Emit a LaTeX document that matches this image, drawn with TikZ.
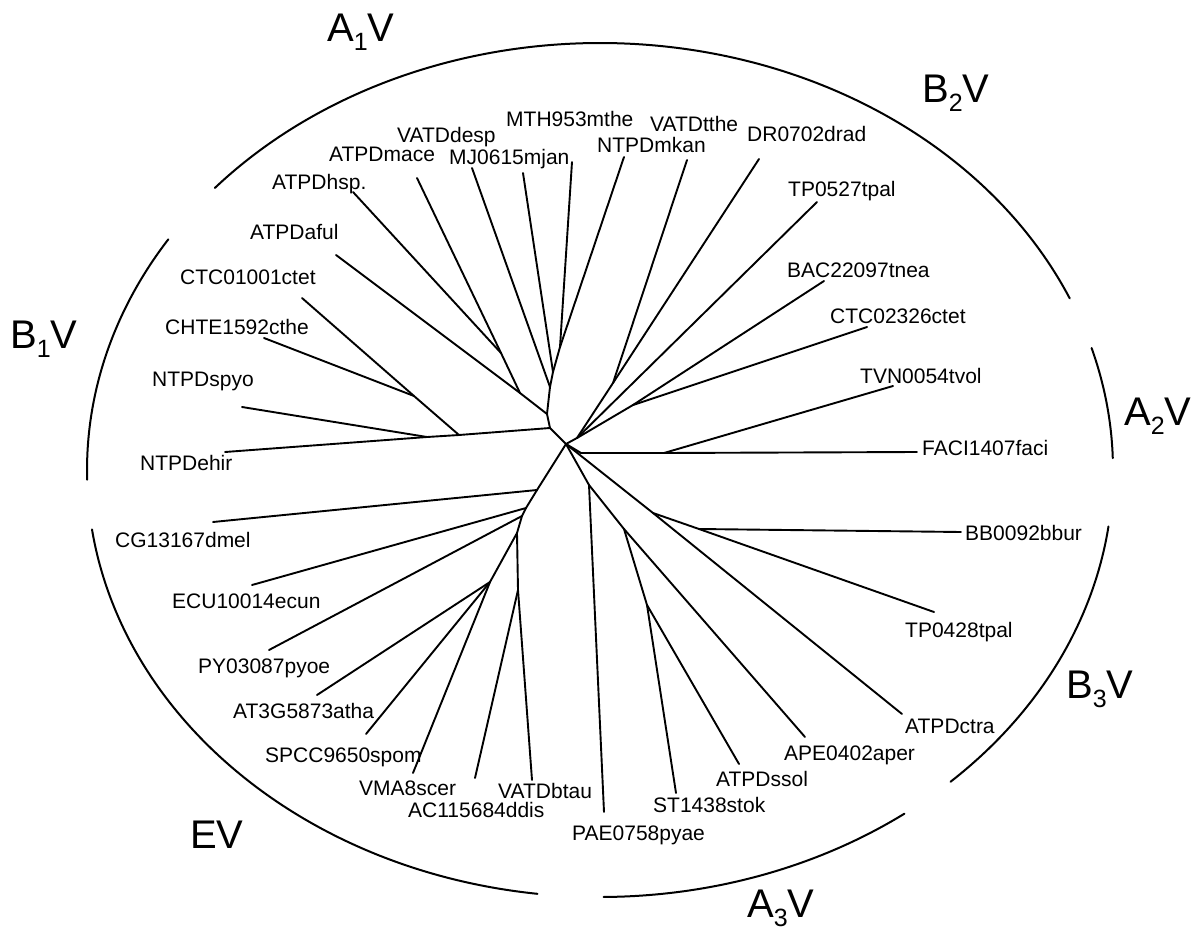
\documentclass[tikz,border=0pt]{standalone}
\usepackage{fontspec}
\setmainfont{Liberation Sans}
\newcommand{\grplbl}[3]{#1\raisebox{-9pt}{\fontsize{25}{25}\selectfont #2}#3}
\begin{document}
\begin{tikzpicture}[x=1pt,y=-1pt,
  br/.style={line width=1.9pt, line cap=round, line join=round},
  arcline/.style={line width=2pt, line cap=round},
  lbl/.style={anchor=base west, inner sep=0pt, font=\fontsize{21}{24}\selectfont},
  big/.style={anchor=base west, inner sep=0pt, font=\fontsize{40}{44}\selectfont}]
\useasboundingbox (0,0) rectangle (1197,936);
\fill[white] (0,0) rectangle (1197,936);
% ---- inner nodes
\coordinate (C) at (566,444);
\coordinate (N1) at (550,428);
\coordinate (a3) at (547,414);
\coordinate (a4) at (550,387);
\coordinate (a5) at (553,372);
\coordinate (a6) at (560,347);
\coordinate (a2) at (520,393);
\coordinate (a1) at (501,353);
\coordinate (S2) at (459,435);
\coordinate (S1) at (427,437);
\coordinate (K) at (414,396);
\coordinate (Q) at (577,438);
\coordinate (V) at (613,383);
\coordinate (W) at (633,405);
\coordinate (F0) at (581,453);
\coordinate (G) at (664,453);
\coordinate (T1) at (653,513);
\coordinate (T2) at (699,529);
\coordinate (P) at (589,485);
\coordinate (J1) at (624,529);
\coordinate (J2) at (647,605);
\coordinate (E1) at (537,490);
\coordinate (E2) at (526,508);
\coordinate (E3) at (522,516);
\coordinate (E4) at (517,533);
\coordinate (E5) at (490,582);
\coordinate (E6) at (518,590);
% ---- tips
\coordinate (tHsp) at (353,192);
\coordinate (tMace) at (417,178);
\coordinate (tDesp) at (472,168);
\coordinate (tMjan) at (523,173);
\coordinate (tMthe) at (572,162);
\coordinate (tMkan) at (624,157);
\coordinate (tAful) at (336,255);
\coordinate (tTthe) at (687,160);
\coordinate (tDrad) at (759,159);
\coordinate (tTpa) at (817,202);
\coordinate (tBac) at (824,281);
\coordinate (tCtcb) at (867,327);
\coordinate (tTvn) at (893,386);
\coordinate (tFaci) at (917,452);
\coordinate (tBb) at (961,532);
\coordinate (tTpb) at (934,612);
\coordinate (tCtra) at (902,714);
\coordinate (tApe) at (805,737);
\coordinate (tSsol) at (739,764);
\coordinate (tSt) at (676,793);
\coordinate (tPae) at (604,812);
\coordinate (tBtau) at (532,780);
\coordinate (tAc) at (475,778);
\coordinate (tVma) at (413,773);
\coordinate (tSpcc) at (366,734);
\coordinate (tAt) at (317,695);
\coordinate (tPy) at (269,650);
\coordinate (tEcu) at (252,585);
\coordinate (tCg) at (213,522);
\coordinate (tEhir) at (225,452);
\coordinate (tSpyo) at (242,407);
\coordinate (tChte) at (264,338);
\coordinate (tCtca) at (302,298);
% ---- branches
\foreach \u/\v in {C/N1, N1/a3, a3/a4, a4/a5, a5/a6, a6/tMthe, a6/tMkan, a5/tMjan, a4/tDesp,
  a3/a2, a2/tAful, a2/a1, a1/tMace, a1/tHsp,
  N1/S2, S2/S1, S1/tEhir, S1/tSpyo, S2/K, K/tCtca, K/tChte,
  C/Q, Q/V, V/tTthe, V/tDrad, Q/tTpa, Q/W, W/tBac, W/tCtcb,
  C/F0, F0/G, G/tFaci, G/tTvn,
  C/T1, T1/tCtra, T1/T2, T2/tTpb, T2/tBb,
  C/P, P/tPae, P/J1, J1/tApe, J1/J2, J2/tSsol, J2/tSt,
  C/E1, E1/tCg, E1/E2, E2/tEcu, E2/E3, E3/tPy, E3/E4, E4/E5, E5/tAt, E5/tSpcc, E5/tVma,
  E4/E6, E6/tBtau, E6/tAc}
  \draw[br] (\u) -- (\v);
% ---- arcs
\coordinate (EC) at (600,470);
\draw[arcline] (EC) ++(-138.65:513 and 427) arc[start angle=-138.65, end angle=-23.7, x radius=513, y radius=427];
\draw[arcline] (EC) ++(-147.3:513 and 427) arc[start angle=-147.3, end angle=-181.3, x radius=513, y radius=427];
\draw[arcline] (EC) ++(-188:513 and 427) arc[start angle=-188, end angle=-263, x radius=513, y radius=427];
\draw[arcline] (EC) ++(89.6:513 and 427) arc[start angle=89.6, end angle=53.6, x radius=513, y radius=427];
\draw[arcline] (EC) ++(46.9:513 and 427) arc[start angle=46.9, end angle=7.6, x radius=513, y radius=427];
\draw[arcline] (EC) ++(-1.6:513 and 427) arc[start angle=-1.6, end angle=-16.6, x radius=513, y radius=427];
% ---- leaf labels
\node[lbl] (lHsp) at (272,190) {ATPDhsp.};
\node[lbl] (lMace) at (329,162) {ATPDmace};
\node[lbl] (lDesp) at (397,143) {VATDdesp};
\node[lbl] (lMjan) at (449,165) {MJ0615mjan};
\node[lbl] (lMthe) at (506,127) {MTH953mthe};
\node[lbl] (lMkan) at (597,153) {NTPDmkan};
\node[lbl] (lTthe) at (650,132) {VATDtthe};
\node[lbl] (lDrad) at (747,142) {DR0702drad};
\node[lbl] (lTpa) at (788,197) {TP0527tpal};
\node[lbl] (lBac) at (787,277) {BAC22097tnea};
\node[lbl] (lCtcb) at (830,323) {CTC02326ctet};
\node[lbl] (lTvn) at (860,383) {TVN0054tvol};
\node[lbl] (lFaci) at (922,455) {FACI1407faci};
\node[lbl] (lBb) at (965,540) {BB0092bbur};
\node[lbl] (lTpb) at (905,637) {TP0428tpal};
\node[lbl] (lCtra) at (905,733) {ATPDctra};
\node[lbl] (lApe) at (784,760) {APE0402aper};
\node[lbl] (lSsol) at (716,786) {ATPDssol};
\node[lbl] (lSt) at (653,812) {ST1438stok};
\node[lbl] (lPae) at (572,840) {PAE0758pyae};
\node[lbl] (lBtau) at (498,798) {VATDbtau};
\node[lbl] (lAc) at (408,817) {AC115684ddis};
\node[lbl] (lVma) at (359,795) {VMA8scer};
\node[lbl] (lSpcc) at (265,762) {SPCC9650spom};
\node[lbl] (lAt) at (233,718) {AT3G5873atha};
\node[lbl] (lPy) at (198,673) {PY03087pyoe};
\node[lbl] (lEcu) at (172,608) {ECU10014ecun};
\node[lbl] (lCg) at (115,547) {CG13167dmel};
\node[lbl] (lEhir) at (140,470) {NTPDehir};
\node[lbl] (lSpyo) at (152,386) {NTPDspyo};
\node[lbl] (lChte) at (165,334) {CHTE1592cthe};
\node[lbl] (lCtca) at (180,284) {CTC01001ctet};
\node[lbl] (lAful) at (250,240) {ATPDaful};
% ---- group labels
\node[big] (gA1) at (327,42) {\grplbl{A}{1}{V}};
\node[big] (gB2) at (922,103) {\grplbl{B}{2}{V}};
\node[big] (gB1) at (10,348) {\grplbl{B}{1}{V}};
\node[big] (gA2) at (1124,425) {\grplbl{A}{2}{V}};
\node[big] (gB3) at (1066,698) {\grplbl{B}{3}{V}};
\node[big] (gEV) at (190,848) {EV};
\node[big] (gA3) at (747,917) {\grplbl{A}{3}{V}};
\end{tikzpicture}
\end{document}
